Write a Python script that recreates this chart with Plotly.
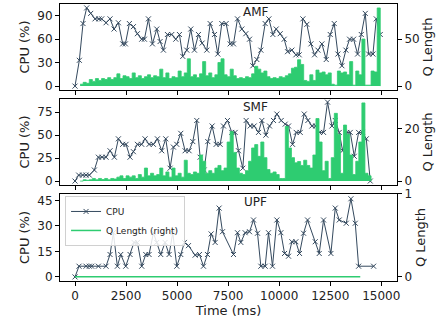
import plotly.graph_objects as go

# ---------------- data ----------------
AMF_T = [0, 212, 392, 572, 768, 980, 1176, 1307, 1520, 1716, 1912, 2124, 2337, 2467,
         2663, 2860, 3056, 3268, 3399, 3595, 3791, 4003, 4167, 4330, 4526, 4739, 4935,
         5114, 5278, 5474, 5670, 5850, 6046, 6226, 6454, 6618, 6830, 6994, 7190, 7402,
         7598, 7762, 7958, 8170, 8366, 8546, 8709, 8905, 9101, 9314, 9494, 9690, 9853,
         10049, 10245, 10409, 10621, 10817, 10980, 11160, 11356, 11552, 11732, 11896,
         12092, 12304, 12500, 12696, 12876, 13072, 13268, 13448, 13644, 13840, 14020,
         14216, 14379, 14592, 14755, 14951]
AMF_CPU = [0, 33, 80, 100, 93, 86, 86, 86, 81, 86, 73, 81, 54, 54,
           80, 76, 67, 60, 60, 86, 54, 73, 57, 46, 66, 66, 60,
           66, 38, 46, 73, 46, 66, 55, 46, 80, 66, 41, 80, 80,
           54, 54, 86, 73, 67, 60, 26, 34, 46, 80, 86, 66, 73,
           67, 60, 44, 46, 40, 40, 86, 79, 54, 40, 46,
           54, 34, 66, 80, 41, 26, 46, 60, 60, 41, 66,
           93, 41, 41, 86, 66]

SMF_T = [0, 180, 376, 539, 703, 948, 1144, 1324, 1520, 1716, 1928, 2124, 2337, 2500,
         2696, 2860, 3056, 3268, 3431, 3627, 3840, 4036, 4248, 4444, 4657, 4820, 4984,
         5180, 5392, 5588, 5768, 5964, 6128, 6324, 6503, 6716, 6912, 7108, 7271, 7467,
         7680, 7843, 8007, 8219, 8382, 8579, 8775, 8987, 9150, 9346, 9526, 9722, 9886,
         10098, 10294, 10458, 10654, 10834, 11030, 11226, 11405, 11601, 11797, 11977,
         12173, 12369, 12582, 12745, 12941, 13105, 13317, 13481, 13677, 13890, 14085,
         14265, 14461]
SMF_CPU = [0, 6.5, 6.5, 6.5, 6.5, 12, 26, 26, 26, 33, 26, 46, 40, 40,
           26, 32, 40, 40, 46, 40, 40, 46, 33, 46, 14, 37, 40,
           52, 33, 33, 43, 66, 26, 12, 43, 60, 40, 40, 60, 66,
           53, 53, 33, 14, 66, 60, 60, 53, 66, 50, 60, 66, 73,
           66, 62, 60, 40, 53, 53, 73, 66, 60, 60, 53,
           53, 86, 60, 66, 53, 33, 53, 53, 27, 53, 53,
           46, 0]

UPF_T = [0, 196, 539, 703, 817, 1144, 1520, 1716, 1879, 2075, 2239, 2484, 2696, 2892,
         3056, 3268, 3464, 3627, 3840, 4003, 4199, 4412, 4608, 4788, 4984, 5180, 5360,
         5556, 5882, 6095, 6291, 6487, 6667, 6863, 7059, 7222, 7762, 7958, 8121, 8333,
         8546, 8742, 8938, 9101, 9314, 9477, 9673, 9886, 10082, 10262, 10458, 10621,
         10817, 10997, 11193, 11389, 11765, 11961, 12173, 12533, 12745, 12941, 13284,
         13513, 13726, 13890, 14624]
UPF_CPU = [0, 6.3, 6.3, 6.3, 6.3, 6.3, 6.3, 13.2, 26, 6.3, 13.2, 6.3, 13.2, 20.3,
           20.3, 6.3, 13.2, 13.2, 26, 20.3, 13.2, 20.3, 13.2, 26, 6.3, 13.2, 20.3,
           18.4, 12.8, 13.2, 6.3, 13.2, 25.3, 20.3, 40.5, 26.6, 13.2, 26, 20.3, 26,
           26.6, 33.5, 25.7, 6.3, 6.3, 26, 6.3, 33.5, 26, 13.8, 12.2, 20.7,
           20.7, 13.8, 25.7, 33.5, 20.7, 13.8, 33.5, 13.8, 40.5, 33.5, 31.6,
           46, 31.6, 6.3, 6.3]

Q_T = [250, 400, 550, 700, 850, 1000, 1150, 1300, 1450, 1600,
       1750, 1900, 2050, 2200, 2350, 2500, 2650, 2800, 2950, 3100,
       3250, 3400, 3550, 3700, 3850, 4000, 4150, 4300, 4450, 4600,
       4750, 4900, 5050, 5200, 5350, 5500, 5650, 5800, 5950, 6100,
       6250, 6400, 6550, 6700, 6850, 7000, 7150, 7300, 7450, 7600,
       7750, 7900, 8050, 8200, 8350, 8500, 8650, 8800, 8950, 9100,
       9250, 9400, 9550, 9700, 9850, 10000, 10150, 10300, 10450, 10600,
       10750, 10900, 11050, 11200, 11350, 11500, 11650, 11800, 11950, 12100,
       12250, 12400, 12550, 12700, 12850, 13000, 13150, 13300, 13450, 13600,
       13750, 13900, 14050, 14200, 14350, 14500, 14650, 14800, 14950]
AMF_Q = [2, 4, 3, 7, 5, 8, 6, 8, 7, 9,
         7, 9, 13, 8, 11, 10, 8, 14, 9, 11,
         8, 10, 12, 9, 11, 10, 18, 9, 14, 8,
         10, 9, 16, 10, 14, 29, 10, 12, 9, 13,
         26, 11, 14, 9, 12, 25, 29, 12, 10, 18,
         11, 8, 9, 8, 10, 9, 13, 21, 18, 14,
         16, 10, 8, 9, 8, 10, 9, 11, 13, 19,
         20, 28, 23, 6, 5, 12, 6, 17, 14, 15,
         12, 14, 2, 1, 16, 14, 15, 12, 26, 1,
         16, 12, 50, 1, 1, 16, 15, 83, 0]
SMF_Q = [0, 0.5, 0.3, 0.5, 1, 0.5, 1, 0.6, 1, 0.5,
         1, 0.8, 1.5, 2, 1, 2, 1.5, 2, 1, 2.5,
         1.5, 5, 2, 3, 2, 2.5, 5, 2, 3.5, 1.5,
         5, 2, 3, 1.5, 8, 3, 2.5, 3.5, 3, 10,
         7.6, 3, 4, 3, 5, 6, 4, 5, 15, 19,
         11, 5, 3, 2.5, 4, 7.6, 12.7, 14, 9.5, 15,
         9, 4.4, 3, 3.5, 2.5, 1, 1, 21, 12.7, 9,
         7, 7.5, 6, 8, 6, 5, 10, 24, 15, 4,
         7.6, 1, 9, 26, 18, 3, 21.5, 18, 10, 2.5,
         7.6, 15, 30, 3, 2, 0]
UPF_QT = [0, 3500, 7000, 10500, 13970]
UPF_Q = [0, 0, 0, 0, 0]

X_TICKS = [0, 2500, 5000, 7500, 10000, 12500, 15000]
X_LABELS = ["0", "2500", "5000", "7500", "10000", "12500", "15000"]
PANELS = ["AMF", "SMF", "UPF"]

# ---------------- styles ----------------
DARK = "#34495e"
GREEN = "#2ecc71"
FONT = "DejaVu Sans"

fig = go.Figure()


def cpu_trace(t, v, xa, ya, show):
    return go.Scatter(
        x=t, y=v, xaxis=xa, yaxis=ya, mode="lines+markers", name="CPU",
        line=dict(color=DARK, width=1),
        marker=dict(symbol="x-thin", size=5, color=DARK, line=dict(width=1, color=DARK)),
        showlegend=show,
    )


fig.add_trace(cpu_trace(AMF_T, AMF_CPU, "x", "y", False))
fig.add_trace(go.Scatter(x=Q_T, y=AMF_Q, xaxis="x", yaxis="y2", mode="lines",
                         line=dict(color=GREEN, width=0.8, shape="hv"), fill="tozeroy",
                         fillcolor=GREEN, showlegend=False))
fig.add_trace(cpu_trace(SMF_T, SMF_CPU, "x2", "y3", False))
fig.add_trace(go.Scatter(x=Q_T[:len(SMF_Q)], y=SMF_Q, xaxis="x2", yaxis="y4", mode="lines",
                         line=dict(color=GREEN, width=0.8, shape="hv"), fill="tozeroy",
                         fillcolor=GREEN, showlegend=False))
fig.add_trace(cpu_trace(UPF_T, UPF_CPU, "x3", "y5", True))
fig.add_trace(go.Scatter(x=UPF_QT, y=UPF_Q, xaxis="x3", yaxis="y6", mode="lines",
                         name="Q Length (right)", line=dict(color=GREEN, width=1.5),
                         showlegend=True))

XR = [-735, 15770]
common_x = dict(range=XR, tickvals=X_TICKS, ticktext=X_LABELS, ticks="outside", ticklen=4,
                tickwidth=1, tickcolor="black", showline=True, mirror=True,
                linecolor="black", linewidth=1, showgrid=False, zeroline=False,
                automargin=False, tickfont=dict(family=FONT, size=12, color="#222"))
common_yl = dict(ticks="outside", ticklen=4, tickwidth=1, tickcolor="black",
                 showline=True, mirror=True, linecolor="black", linewidth=1,
                 showgrid=False, zeroline=False, automargin=False,
                 tickfont=dict(family=FONT, size=12, color="#222"),
                 title=dict(text="CPU (%)", font=dict(family=FONT, size=13, color="#222"),
                            standoff=4))
common_yr = dict(ticks="outside", ticklen=4, tickwidth=1, tickcolor="black",
                 showline=False, showgrid=False, zeroline=False, side="right",
                 automargin=False,
                 tickfont=dict(family=FONT, size=12, color="#222"),
                 title=dict(text="Q Length", font=dict(family=FONT, size=13, color="#222"),
                            standoff=4))

D1 = [0.6895, 1.0]
D2 = [0.3466, 0.657]
D3 = [0.0, 0.3141]

fig.update_layout(
    width=443, height=322,
    margin=dict(l=60, r=46, t=4, b=41),
    plot_bgcolor="white", paper_bgcolor="white",
    font=dict(family=FONT, color="#222"),
    xaxis=dict(anchor="y", showticklabels=False, **common_x),
    xaxis2=dict(anchor="y3", showticklabels=False, **common_x),
    xaxis3=dict(anchor="y5", showticklabels=True,
                title=dict(text="Time (ms)", font=dict(family=FONT, size=13, color="#222"),
                           standoff=2),
                **common_x),
    yaxis=dict(domain=D1, anchor="x", range=[-5, 105], tickvals=[0, 30, 60, 90], **common_yl),
    yaxis2=dict(domain=D1, anchor="x", overlaying="y", range=[-4.15, 87.2],
                tickvals=[0, 50], **common_yr),
    yaxis3=dict(domain=D2, anchor="x2", range=[-4.3, 89.4], tickvals=[0, 25, 50, 75],
                **common_yl),
    yaxis4=dict(domain=D2, anchor="x2", overlaying="y3", range=[-1.5, 31.5],
                tickvals=[0, 20], **common_yr),
    yaxis5=dict(domain=D3, anchor="x3", range=[-2.4, 48.8], tickvals=[0, 15, 30, 45],
                **common_yl),
    yaxis6=dict(domain=D3, anchor="x3", overlaying="y5", range=[-0.052, 1.0],
                tickvals=[0, 1], **common_yr),
    legend=dict(x=0.015, y=0.307, xanchor="left", yanchor="top",
                font=dict(family=FONT, size=9, color="#222"),
                bgcolor="rgba(255,255,255,0.85)", bordercolor="#d0d0d0", borderwidth=1,
                tracegroupgap=0, itemwidth=30),
    showlegend=True,
)

title_y = [0.971, 0.629, 0.286]
for name, yy in zip(PANELS, title_y):
    fig.add_annotation(text=name, x=0.5816, y=yy, xref="paper", yref="paper",
                       xanchor="center", yanchor="middle", showarrow=False,
                       font=dict(family=FONT, size=12, color="#222"))

fig.write_html("out.html", config={"displayModeBar": False},
               post_script="document.body.style.margin='0px';")
